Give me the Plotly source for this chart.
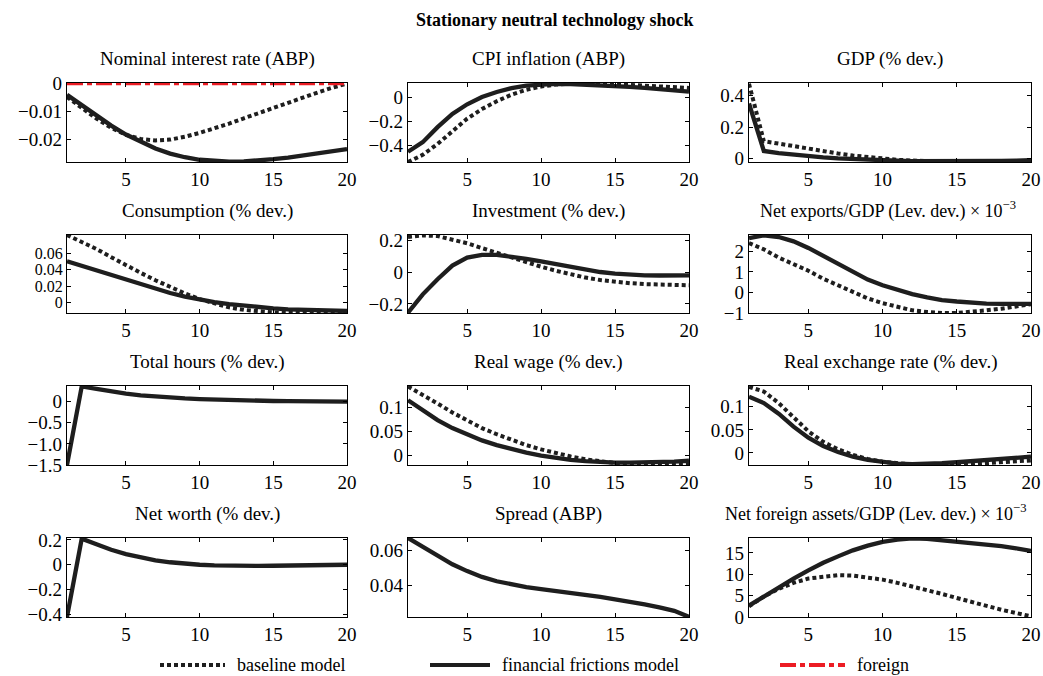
import plotly.graph_objects as go

periods = list(range(1, 21))

titles = [
    "Nominal interest rate (ABP)", "CPI inflation (ABP)", "GDP (% dev.)",
    "Consumption (% dev.)", "Investment (% dev.)", "Net exports/GDP (Lev. dev.) × 10<sup>−3</sup>",
    "Total hours (% dev.)", "Real wage (% dev.)", "Real exchange rate (% dev.)",
    "Net worth (% dev.)", "Spread (ABP)", "Net foreign assets/GDP (Lev. dev.) × 10<sup>−3</sup>",
]

# financial frictions model (solid)
ff_nominal = [-0.0042, -0.0080, -0.0117, -0.0152, -0.0184, -0.0211, -0.0234, -0.0252, -0.0265, -0.0274,
              -0.0279, -0.0281, -0.0280, -0.0277, -0.0272, -0.0266, -0.0259, -0.0252, -0.0244, -0.0236]
ff_cpi = [-0.455, -0.375, -0.25, -0.14, -0.06, 0.0, 0.042, 0.075, 0.095, 0.106,
          0.110, 0.108, 0.104, 0.099, 0.092, 0.085, 0.077, 0.068, 0.058, 0.045]
ff_gdp = [0.35, 0.048, 0.035, 0.024, 0.015, 0.007, 0.001, -0.004, -0.008, -0.011,
          -0.014, -0.016, -0.017, -0.018, -0.018, -0.017, -0.016, -0.015, -0.013, -0.011]
ff_cons = [0.050, 0.0445, 0.039, 0.033, 0.027, 0.0215, 0.016, 0.0115, 0.0072, 0.0035,
           0.0005, -0.002, -0.004, -0.0058, -0.0072, -0.0083, -0.0091, -0.0097, -0.0101, -0.0103]
ff_inv = [-0.255, -0.14, -0.045, 0.04, 0.09, 0.108, 0.108, 0.098, 0.083, 0.066,
          0.048, 0.03, 0.014, 0.0, -0.01, -0.017, -0.021, -0.022, -0.022, -0.021]
ff_nx = [2.65, 2.78, 2.70, 2.49, 2.17, 1.78, 1.38, 0.98, 0.63, 0.35,
         0.11, -0.08, -0.24, -0.37, -0.44, -0.51, -0.54, -0.56, -0.57, -0.56]
ff_hours = [-1.5, 0.36, 0.30, 0.24, 0.19, 0.15, 0.12, 0.095, 0.075, 0.06,
            0.047, 0.037, 0.028, 0.021, 0.015, 0.01, 0.006, 0.003, 0.001, 0.0]
ff_wage = [0.116, 0.094, 0.074, 0.057, 0.043, 0.031, 0.021, 0.012, 0.005, -0.001,
           -0.006, -0.010, -0.013, -0.015, -0.016, -0.016, -0.016, -0.015, -0.014, -0.012]
ff_rer = [0.122, 0.108, 0.085, 0.057, 0.033, 0.015, 0.002, -0.008, -0.015, -0.020,
          -0.023, -0.024, -0.024, -0.022, -0.020, -0.018, -0.016, -0.013, -0.011, -0.008]
ff_networth = [-0.42, 0.21, 0.165, 0.12, 0.085, 0.058, 0.036, 0.02, 0.008, 0.0,
               -0.005, -0.008, -0.009, -0.009, -0.008, -0.006, -0.005, -0.003, -0.001, 0.0]
ff_spread = [0.0672, 0.0623, 0.0570, 0.0522, 0.0483, 0.0450, 0.0425, 0.0406, 0.0392, 0.0380,
             0.0370, 0.0359, 0.0348, 0.0336, 0.0322, 0.0309, 0.0293, 0.0276, 0.0256, 0.0222]
ff_nfa = [2.66, 4.84, 7.0, 9.0, 10.9, 12.7, 14.2, 15.6, 16.7, 17.6,
          18.1, 18.4, 18.3, 18.0, 17.7, 17.3, 16.95, 16.6, 16.1, 15.5]

# baseline model (dotted)
bl_nominal = [-0.0050, -0.0090, -0.0127, -0.0160, -0.0185, -0.0200, -0.0205, -0.0202, -0.0192, -0.0178,
              -0.0162, -0.0145, -0.0126, -0.0107, -0.0088, -0.0069, -0.0051, -0.0034, -0.0017, -0.0002]
bl_cpi = [-0.54, -0.48, -0.39, -0.28, -0.18, -0.10, -0.035, 0.02, 0.06, 0.088,
          0.104, 0.111, 0.112, 0.110, 0.106, 0.101, 0.096, 0.090, 0.083, 0.076]
bl_gdp = [0.475, 0.11, 0.095, 0.078, 0.062, 0.046, 0.032, 0.019, 0.008, -0.001,
          -0.008, -0.013, -0.017, -0.019, -0.020, -0.021, -0.021, -0.021, -0.020, -0.019]
bl_cons = [0.082, 0.074, 0.065, 0.055, 0.045, 0.036, 0.027, 0.0185, 0.011, 0.004,
           -0.0015, -0.006, -0.009, -0.011, -0.012, -0.0127, -0.0128, -0.0128, -0.0126, -0.0124]
bl_inv = [0.22, 0.23, 0.225, 0.205, 0.18, 0.15, 0.12, 0.09, 0.06, 0.033,
          0.008, -0.015, -0.035, -0.05, -0.062, -0.07, -0.076, -0.08, -0.082, -0.083]
bl_nx = [2.41, 2.10, 1.70, 1.38, 1.06, 0.67, 0.35, 0.03, -0.29, -0.52,
         -0.71, -0.87, -0.95, -1.0, -1.0, -0.95, -0.87, -0.79, -0.68, -0.57]
bl_wage = [0.145, 0.128, 0.109, 0.09, 0.073, 0.057, 0.044, 0.032, 0.021, 0.012,
           0.004, -0.003, -0.009, -0.014, -0.017, -0.019, -0.02, -0.02, -0.019, -0.018]
bl_rer = [0.143, 0.133, 0.108, 0.076, 0.047, 0.024, 0.008, -0.004, -0.013, -0.019,
          -0.023, -0.025, -0.026, -0.026, -0.025, -0.024, -0.022, -0.020, -0.018, -0.016]
bl_nfa = [2.5, 4.8, 6.6, 8.0, 9.0, 9.5, 9.8, 9.7, 9.3, 8.75,
          8.0, 7.2, 6.25, 5.4, 4.45, 3.5, 2.66, 1.7, 0.94, 0.15]

# foreign (dash-dot)
foreign_nominal = [0.0] * 20

solid_series = [ff_nominal, ff_cpi, ff_gdp, ff_cons, ff_inv, ff_nx,
                ff_hours, ff_wage, ff_rer, ff_networth, ff_spread, ff_nfa]
dotted_series = [bl_nominal, bl_cpi, bl_gdp, bl_cons, bl_inv, bl_nx,
                 None, bl_wage, bl_rer, None, None, bl_nfa]
foreign_series = [foreign_nominal] + [None] * 11

y_ranges = [[-0.0282, 0.0], [-0.54, 0.117], [-0.022, 0.48], [-0.0128, 0.082],
            [-0.257, 0.232], [-1.0, 2.8], [-1.5, 0.37], [-0.021, 0.146],
            [-0.026, 0.145], [-0.42, 0.215], [0.0221, 0.0672], [0.0, 18.5]]
y_tickvals = [[-0.02, -0.01, 0], [-0.4, -0.2, 0], [0, 0.2, 0.4], [0, 0.02, 0.04, 0.06],
              [-0.2, 0, 0.2], [-1, 0, 1, 2], [-1.5, -1.0, -0.5, 0], [0, 0.05, 0.1],
              [0, 0.05, 0.1], [-0.4, -0.2, 0, 0.2], [0.04, 0.06], [0, 5, 10, 15]]
y_ticktext = [["−0.02", "−0.01", "0"], ["−0.4", "−0.2", "0"], ["0", "0.2", "0.4"],
              ["0", "0.02", "0.04", "0.06"], ["−0.2", "0", "0.2"], ["−1", "0", "1", "2"],
              ["−1.5", "−1.0", "−0.5", "0"], ["0", "0.05", "0.1"], ["0", "0.05", "0.1"],
              ["−0.4", "−0.2", "0", "0.2"], ["0.04", "0.06"], ["0", "5", "10", "15"]]
x_tickvals = [5, 10, 15, 20]

W, H = 1043, 676
col_px = [(67, 347), (408, 689), (749, 1031)]
row_px = [(83, 162), (235, 313), (386, 465), (538, 617)]
title_cx = [207, 548, 890, 207, 548, 888, 207, 548, 890, 207, 548, 876]

SERIF = "'Liberation Serif', 'Times New Roman', Times, serif"
fig = go.Figure()

for i in range(12):
    r, c = divmod(i, 3)
    n = "" if i == 0 else str(i + 1)
    xa, ya = "x" + n, "y" + n
    x0, x1 = col_px[c]
    y0, y1 = row_px[r]
    common = dict(showline=True, linecolor="black", linewidth=1.3, mirror="ticks",
                  ticks="inside", ticklen=4, tickwidth=1, tickcolor="black",
                  showgrid=False, zeroline=False, automargin=False)
    fig.layout["xaxis" + n] = dict(domain=[x0 / W, x1 / W], anchor=ya, range=[1, 20],
                                  tickvals=x_tickvals,
                                  tickfont=dict(family=SERIF, size=19, color="black"), **common)
    fig.layout["yaxis" + n] = dict(domain=[1 - y1 / H, 1 - y0 / H], anchor=xa,
                                  range=y_ranges[i], tickvals=y_tickvals[i],
                                  ticktext=y_ticktext[i],
                                  tickfont=dict(family=SERIF, size=16 if i == 3 else 19, color="black"),
                                  layer="below traces" if i == 0 else "above traces",
                                  **common)
    if dotted_series[i] is not None:
        fig.add_trace(go.Scatter(x=periods, y=dotted_series[i], xaxis=xa, yaxis=ya,
                                 mode="lines", name="baseline model", showlegend=False,
                                 line=dict(color="#1e1e1e", width=4, dash="4px,3px")))
    fig.add_trace(go.Scatter(x=periods, y=solid_series[i], xaxis=xa, yaxis=ya,
                             mode="lines", name="financial frictions model", showlegend=False,
                             line=dict(color="#1e1e1e", width=4.3)))
    if foreign_series[i] is not None:
        fig.add_trace(go.Scatter(x=periods, y=foreign_series[i], xaxis=xa, yaxis=ya,
                                 mode="lines", name="foreign", showlegend=False, cliponaxis=False,
                                 line=dict(color="#ec1c24", width=4.5, dash="16px,4px,5px,4px")))
    fig.add_annotation(text=titles[i], xref="paper", yref="paper",
                       x=title_cx[i] / W, y=1 - (y0 - 11) / H,
                       xanchor="center", yanchor="bottom", showarrow=False,
                       font=dict(family=SERIF, size=19 if i not in (5, 11) else 18, color="black"))

fig.add_annotation(text="<b>Stationary neutral technology shock</b>", xref="paper", yref="paper",
                   x=555 / W, y=1 - 20 / H, xanchor="center", yanchor="middle", showarrow=False,
                   font=dict(family=SERIF, size=18, color="black"))

# legend keys
legend_items = [("baseline model", "#1e1e1e", "4px,3px", 160, 225),
                ("financial frictions model", "#1e1e1e", "solid", 430, 490),
                ("foreign", "#ec1c24", "16px,4px,5px,4px", 780, 845)]
ly = 1 - 665 / H
for label, color, dash, lx0, lx1 in legend_items:
    fig.add_shape(type="line", xref="paper", yref="paper", x0=lx0 / W, x1=lx1 / W, y0=ly, y1=ly,
                  line=dict(color=color, width=4, dash=dash))
    fig.add_annotation(text=label, xref="paper", yref="paper", x=(lx1 + 10) / W, y=ly,
                       xanchor="left", yanchor="middle", showarrow=False,
                       font=dict(family=SERIF, size=18, color="black"))

fig.update_layout(width=W, height=H, margin=dict(l=0, r=0, t=0, b=0, autoexpand=False),
                  paper_bgcolor="white", plot_bgcolor="white", showlegend=False)

fig.write_html("out.html")
